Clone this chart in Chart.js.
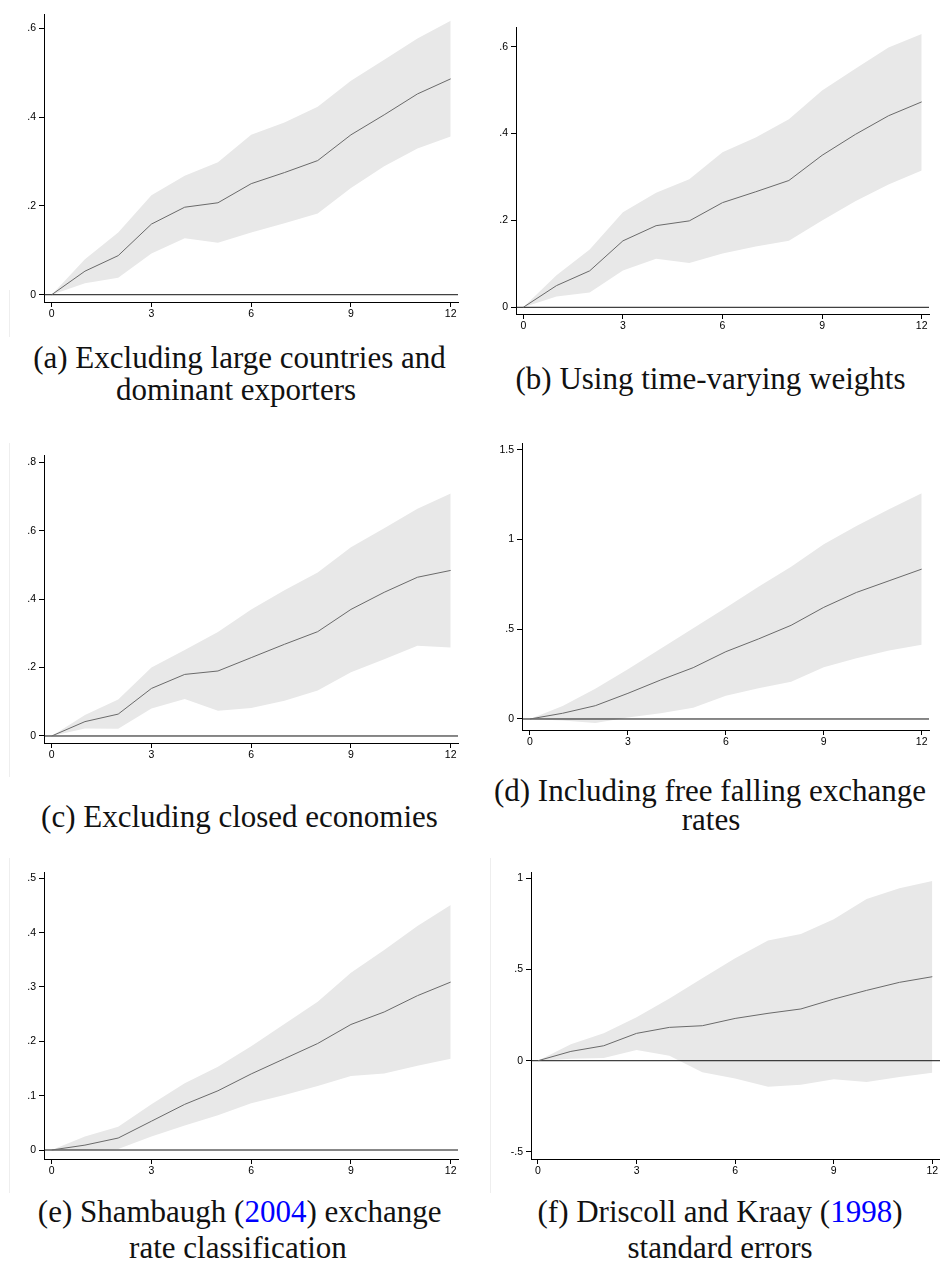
<!DOCTYPE html>
<html><head><meta charset="utf-8">
<script src="https://cdn.jsdelivr.net/npm/chart.js@4.4.1/dist/chart.umd.min.js"></script>
<style>
html,body{margin:0;padding:0;background:#fff;width:940px;height:1264px;overflow:hidden;position:relative;}
canvas.cv{position:absolute;}
.cap{position:absolute;width:600px;text-align:center;font-family:"Liberation Serif","Times New Roman",serif;font-size:31px;line-height:31px;color:#111;white-space:nowrap;}
.cite{color:#0000ff;}
.edge{position:absolute;width:1px;background:#eeeeee;}
</style></head><body>
<div id="root"></div>
<script>
// ---------- data ----------
const horizons = [0,1,2,3,4,5,6,7,8,9,10,11,12];
const xTicks = [0,3,6,9,12];
const xTickLabels = ["0","3","6","9","12"];

// (a) Excluding large countries and dominant exporters
const irfA   = [0,0.053,0.088,0.159,0.197,0.207,0.250,0.275,0.302,0.360,0.405,0.452,0.486];
const upperA = [0,0.080,0.140,0.224,0.268,0.298,0.360,0.388,0.423,0.482,0.529,0.577,0.617];
const lowerA = [0,0.026,0.038,0.093,0.127,0.117,0.140,0.161,0.183,0.240,0.289,0.329,0.356];
const yTicksA = [0,0.2,0.4,0.6];
const yLabelsA = ["0",".2",".4",".6"];

// (b) Using time-varying weights
const irfB   = [0,0.050,0.084,0.153,0.188,0.199,0.241,0.266,0.292,0.350,0.398,0.441,0.473];
const upperB = [0,0.074,0.133,0.219,0.264,0.295,0.357,0.391,0.433,0.499,0.549,0.598,0.629];
const lowerB = [0,0.025,0.034,0.085,0.112,0.102,0.124,0.140,0.153,0.200,0.244,0.283,0.315];
const yTicksB = [0,0.2,0.4,0.6];
const yLabelsB = ["0",".2",".4",".6"];

// (c) Excluding closed economies
const irfC   = [0,0.042,0.064,0.139,0.180,0.190,0.229,0.268,0.305,0.370,0.420,0.464,0.484];
const upperC = [0,0.061,0.107,0.200,0.251,0.304,0.370,0.426,0.478,0.552,0.607,0.664,0.709];
const lowerC = [0,0.022,0.021,0.080,0.108,0.074,0.082,0.103,0.133,0.186,0.224,0.264,0.259];
const yTicksC = [0,0.2,0.4,0.6,0.8];
const yLabelsC = ["0",".2",".4",".6",".8"];

// (d) Including free falling exchange rates
const irfD   = [0,0.032,0.074,0.143,0.217,0.286,0.375,0.446,0.522,0.622,0.705,0.770,0.835];
const upperD = [0,0.072,0.169,0.277,0.392,0.505,0.620,0.737,0.848,0.973,1.075,1.168,1.257];
const lowerD = [0,-0.009,-0.022,0.009,0.032,0.063,0.130,0.171,0.208,0.288,0.338,0.381,0.414];
const yTicksD = [0,0.5,1,1.5];
const yLabelsD = ["0",".5","1","1.5"];

// (e) Shambaugh (2004) exchange rate classification
const irfE   = [0,0.009,0.022,0.053,0.084,0.109,0.140,0.168,0.196,0.231,0.254,0.284,0.309];
const upperE = [0,0.025,0.043,0.084,0.123,0.153,0.191,0.232,0.273,0.326,0.368,0.412,0.451];
const lowerE = [0,0.000,0.002,0.025,0.045,0.064,0.086,0.101,0.118,0.136,0.141,0.155,0.168];
const yTicksE = [0,0.1,0.2,0.3,0.4,0.5];
const yLabelsE = ["0",".1",".2",".3",".4",".5"];

// (f) Driscoll and Kraay (1998) standard errors
const irfF   = [0,0.051,0.082,0.150,0.183,0.192,0.232,0.260,0.284,0.338,0.386,0.430,0.461];
const upperF = [0,0.090,0.150,0.238,0.342,0.452,0.562,0.660,0.695,0.776,0.887,0.946,0.986];
const lowerF = [0,0.011,0.015,0.059,0.027,-0.064,-0.097,-0.143,-0.132,-0.102,-0.117,-0.090,-0.066];
const yTicksF = [-0.5,0,0.5,1];
const yLabelsF = ["-.5","0",".5","1"];

// ---------- layout (plot boxes in page px, axis ranges) ----------
const panels = [
  {irf:irfA, hi:upperA, lo:lowerA, yt:yTicksA, yl:yLabelsA, box:[44,14,458,302],  xr:[-0.2316,12.22], yr:[-0.0164,0.632]},
  {irf:irfB, hi:upperB, lo:lowerB, yt:yTicksB, yl:yLabelsB, box:[516,27,929,314], xr:[-0.22,12.22],   yr:[-0.0154,0.6454]},
  {irf:irfC, hi:upperC, lo:lowerC, yt:yTicksC, yl:yLabelsC, box:[44,455,458,743], xr:[-0.2316,12.22], yr:[-0.0205,0.8214]},
  {irf:irfD, hi:upperD, lo:lowerD, yt:yTicksD, yl:yLabelsD, box:[522,443,929,730],xr:[-0.245,12.224], yr:[-0.0613,1.5376]},
  {irf:irfE, hi:upperE, lo:lowerE, yt:yTicksE, yl:yLabelsE, box:[44,872,458,1159],xr:[-0.2316,12.22], yr:[-0.01656,0.5116]},
  {irf:irfF, hi:upperF, lo:lowerF, yt:yTicksF, yl:yLabelsF, box:[531,872,940,1159],xr:[-0.213,12.234],yr:[-0.5395,1.0357]}
];

const captions = [
  {html:'(a) Excluding large countries and', cx:239.5, base:368},
  {html:'dominant exporters', cx:236, base:400},
  {html:'(b) Using time-varying weights', cx:710.5, base:389},
  {html:'(c) Excluding closed economies', cx:239.5, base:827},
  {html:'(d) Including free falling exchange', cx:710, base:801},
  {html:'rates', cx:711, base:830},
  {html:'(e) Shambaugh (<span class="cite">2004</span>) exchange', cx:239.7, base:1222},
  {html:'rate classification', cx:238, base:1258},
  {html:'(f) Driscoll and Kraay (<span class="cite">1998</span>)', cx:720, base:1222},
  {html:'standard errors', cx:720, base:1258}
];

const edges = [
  {x:9, y0:290, y1:337},
  {x:9, y0:443, y1:777},
  {x:9, y0:858, y1:1193},
  {x:490, y0:858, y1:1193}
];

const root = document.getElementById('root');
edges.forEach(e => {
  const d = document.createElement('div');
  d.className = 'edge';
  d.style.left = e.x + 'px'; d.style.top = e.y0 + 'px'; d.style.height = (e.y1 - e.y0) + 'px';
  root.appendChild(d);
});

const PADL = 40, PADT = 10, PADR = 4, PADB = 20;
const tickFont = {family:'"Liberation Sans", Arial, sans-serif', size:10.5};
const toXY = arr => horizons.map((h,i) => ({x:h, y:arr[i]}));

panels.forEach(p => {
  const [L,T,R,B] = p.box;
  const c = document.createElement('canvas');
  c.className = 'cv';
  const w = R - L + PADL + PADR, h = B - T + PADT + PADB;
  c.width = w; c.height = h;
  c.style.width = w + 'px'; c.style.height = h + 'px';
  c.style.left = (L - PADL) + 'px'; c.style.top = (T - PADT) + 'px';
  root.appendChild(c);
  new Chart(c.getContext('2d'), {
    type: 'line',
    data: {
      datasets: [
        {data: toXY(p.irf), borderColor:'#6a6a6a', borderWidth:1, pointRadius:0, fill:false, tension:0},
        {data: [{x:p.xr[0], y:0},{x:p.xr[1], y:0}], borderColor:'#111', borderWidth:1, pointRadius:0, fill:false},
        {data: toXY(p.hi), borderColor:'rgba(0,0,0,0)', borderWidth:0, pointRadius:0, fill:'+1', backgroundColor:'#e8e8e8', tension:0},
        {data: toXY(p.lo), borderColor:'rgba(0,0,0,0)', borderWidth:0, pointRadius:0, fill:false, tension:0}
      ]
    },
    options: {
      responsive:false, animation:false, events:[],
      layout:{padding:{left:0, top:PADT, right:PADR, bottom:0}},
      plugins:{legend:{display:false}, tooltip:{enabled:false}},
      scales: {
        x: {
          type:'linear', min:p.xr[0], max:p.xr[1],
          afterBuildTicks: s => { s.ticks = xTicks.map(v => ({value:v})); },
          afterFit: s => { s.height = PADB; },
          ticks:{autoSkip:false, maxRotation:0, padding:1, color:'#000', font:tickFont, callback:(v,i) => xTickLabels[i]},
          grid:{display:true, drawOnChartArea:false, drawTicks:true, tickLength:5, tickColor:'#000', color:'#000', lineWidth:1},
          border:{display:true, color:'#000', width:1}
        },
        y: {
          type:'linear', min:p.yr[0], max:p.yr[1],
          afterBuildTicks: s => { s.ticks = p.yt.map(v => ({value:v})); },
          afterFit: s => { s.width = PADL; },
          ticks:{autoSkip:false, padding:3, color:'#000', font:tickFont, callback:(v,i) => p.yl[i]},
          grid:{display:true, drawOnChartArea:false, drawTicks:true, tickLength:5, tickColor:'#000', color:'#000', lineWidth:1},
          border:{display:true, color:'#000', width:1}
        }
      }
    }
  });
});

captions.forEach(cp => {
  const d = document.createElement('div');
  d.className = 'cap';
  d.innerHTML = cp.html;
  d.style.left = (cp.cx - 300) + 'px';
  d.style.top = (cp.base - 26) + 'px';
  root.appendChild(d);
});
</script>
</body></html>
